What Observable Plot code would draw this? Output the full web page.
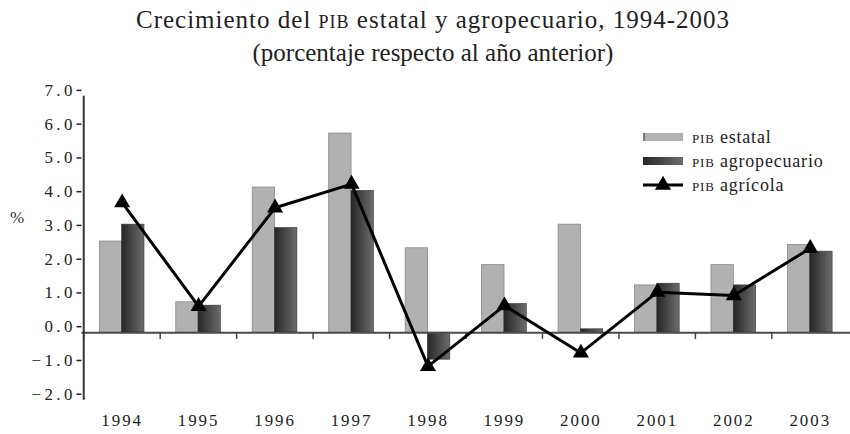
<!DOCTYPE html>
<html>
<head>
<meta charset="utf-8">
<script src="https://cdn.jsdelivr.net/npm/d3@7"></script>
<script src="https://cdn.jsdelivr.net/npm/@observablehq/plot@0.6"></script>
<style>
  html, body { margin: 0; padding: 0; background: #fff; }
  #wrap { position: relative; width: 850px; height: 434px; overflow: hidden; font-family: "Liberation Serif", serif; color: #222; }
  #title { position: absolute; left: 0; top: 3px; width: 866px; text-align: center; font-size: 25px; line-height: 33px; }
  #title .l1 { letter-spacing: 1px; }
  .sc { font-variant: small-caps; }
  #chart { position: absolute; left: 0; top: 75px; }
  #pct { position: absolute; left: 10px; top: 208px; font-size: 17px; color: #333; }
  #legend { position: absolute; left: 643px; top: 125px; font-size: 18px; letter-spacing: 0.8px; color: #222; }
  #legend .row { position: relative; height: 24px; }
  #legend .sw { position: absolute; left: 0; top: 8px; width: 40px; height: 8px; box-sizing: border-box; }
  #legend .lab { position: absolute; left: 49px; top: 0; line-height: 24px; white-space: nowrap; }
  g[aria-label="y-axis tick label"] text { letter-spacing: 3.5px; }
  g[aria-label="x-axis tick label"] text { letter-spacing: 2px; }
</style>
</head>
<body>
<div id="wrap">
  <div id="title"><span class="l1">Crecimiento del <span class="sc">pib</span> estatal y agropecuario, 1994-2003</span><br>(porcentaje respecto al año anterior)</div>
  <div id="chart"></div>
  <div id="pct">%</div>
  <div id="legend"></div>
</div>
<script>
// ---- data ----
const years = ["1994","1995","1996","1997","1998","1999","2000","2001","2002","2003"];
const pibEstatal      = [2.7, 0.9, 4.3, 5.9, 2.5, 2.0, 3.2, 1.4, 2.0, 2.6];
const pibAgropecuario = [3.2, 0.8, 3.1, 4.2, -0.8, 0.85, 0.1, 1.45, 1.4, 2.4];
const pibAgricola     = [3.85, 0.78, 3.7, 4.4, -1.0, 0.8, -0.6, 1.2, 1.1, 2.5];
const yTicks = [-2, -1, 0, 1, 2, 3, 4, 5, 6, 7];
const seriesNames = ["estatal", "agropecuario", "agrícola"];

const rows = years.map((year, i) => ({
  year,
  estatal: pibEstatal[i],
  agropecuario: pibAgropecuario[i],
  agricola: pibAgricola[i]
}));

const W = 856, ML = 82, MR = 0;
const padInner = 0.42;
const step = (W - ML - MR) / years.length;
const bw = step * (1 - padInner);

const plot = Plot.plot({
  width: W,
  height: 359,
  marginLeft: ML,
  marginRight: MR,
  marginTop: 21,
  marginBottom: 32,
  style: { fontFamily: "'Liberation Serif', serif", fontSize: "17px", color: "#222", background: "transparent" },
  x: { domain: years, paddingInner: padInner, paddingOuter: padInner / 2, label: null },
  y: { domain: [-2, 7], label: null },
  marks: [
    Plot.barY(rows, { x: "year", y: "estatal", insetRight: bw / 2, fill: "#b1b1b1", stroke: "#8a8a8a", strokeWidth: 0.8 }),
    Plot.barY(rows, { x: "year", y: "agropecuario", insetLeft: bw / 2, fill: "url(#darkGrad)", stroke: "#333", strokeWidth: 0.6 }),
    Plot.ruleY([0], { stroke: "#4a4a4a", strokeWidth: 2 }),
    Plot.ruleX(years, { x: d => d, y1: 0, y2: -0.2, dx: -step / 2, stroke: "#444", strokeWidth: 1.5 }),
    Plot.ruleX([years[0]], { x: d => d, y1: -2, y2: 7, dx: -step / 2, stroke: "#333", strokeWidth: 2 }),
    Plot.axisY({ ticks: yTicks, tickFormat: d3.format(".1f"), tickSize: 5, tickPadding: 1, dy: -6, fontSize: 17, strokeWidth: 1.5 }),
    Plot.axisX({ tickSize: 0, tickPadding: 14, fontSize: 17 }),
    Plot.line(rows, { x: "year", y: "agricola", stroke: "#000", strokeWidth: 3 }),
    Plot.dot(rows, { x: "year", y: "agricola", symbol: "triangle", r: 6, fill: "#000", stroke: "none" })
  ]
});

d3.select(plot).insert("defs", ":first-child").html(
  '<linearGradient id="darkGrad" x1="0" x2="1" y1="0" y2="0">' +
  '<stop offset="0" stop-color="#262626"/><stop offset="1" stop-color="#6c6c6c"/></linearGradient>'
);
document.getElementById("chart").appendChild(plot);

// ---- legend ----
const legend = d3.select("#legend");
const r1 = legend.append("div").attr("class", "row");
r1.append("div").attr("class", "sw").style("background", "#b1b1b1").style("border-left", "2px solid #7a7a7a");
r1.append("div").attr("class", "lab").html('<span class="sc">pib</span> ' + seriesNames[0]);
const r2 = legend.append("div").attr("class", "row");
r2.append("div").attr("class", "sw").style("background", "linear-gradient(to right, #262626, #6c6c6c)");
r2.append("div").attr("class", "lab").html('<span class="sc">pib</span> ' + seriesNames[1]);
const r3 = legend.append("div").attr("class", "row");
r3.append("div").style("position", "absolute").style("left", "0px").style("top", "0px")
  .html('<svg width="40" height="24"><line x1="0" x2="40" y1="12" y2="12" stroke="#000" stroke-width="3"/>' +
        '<path d="' + d3.symbol(d3.symbolTriangle, Math.PI * 36)() + '" transform="translate(20,12)" fill="#000"/></svg>');
r3.append("div").attr("class", "lab").html('<span class="sc">pib</span> ' + seriesNames[2]);
</script>
</body>
</html>
